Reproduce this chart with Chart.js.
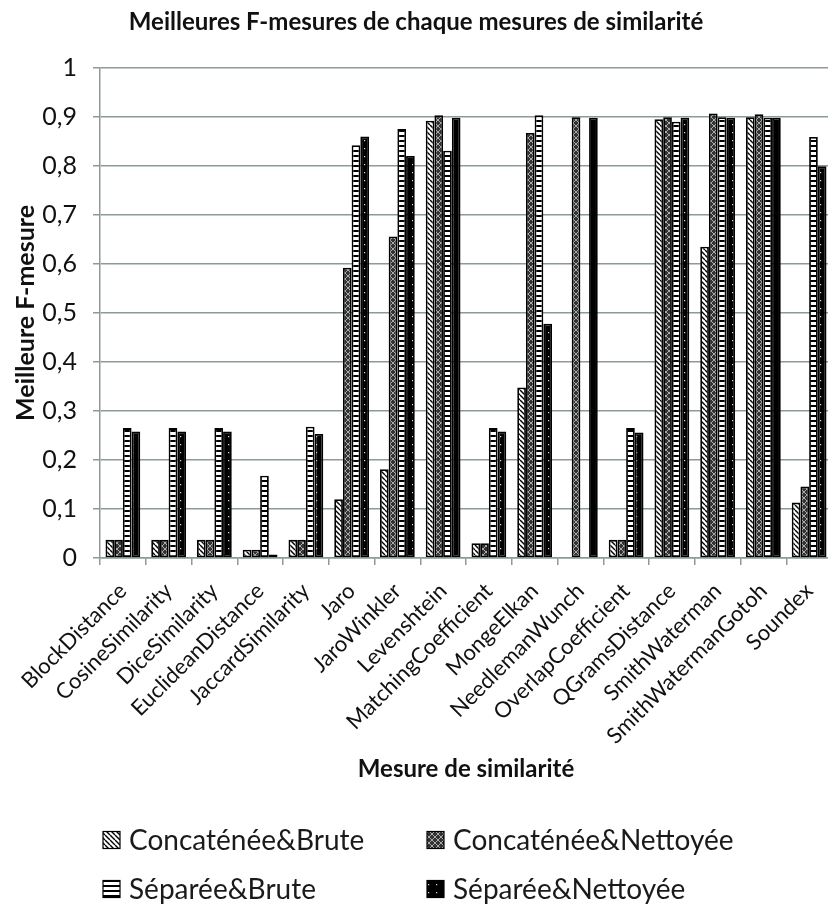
<!DOCTYPE html>
<html>
<head>
<meta charset="utf-8">
<script src="https://cdn.jsdelivr.net/npm/chart.js@4/dist/chart.umd.min.js"></script>
<style>
html,body{margin:0;padding:0;overflow:hidden;background:#fff;}
#wrap{width:832px;height:907px;position:relative;}
</style>
</head>
<body>
<div id="wrap"><canvas id="c"></canvas></div>
<script>
const categories = ["BlockDistance","CosineSimilarity","DiceSimilarity","EuclideanDistance","JaccardSimilarity","Jaro","JaroWinkler","Levenshtein","MatchingCoefficient","MongeElkan","NeedlemanWunch","OverlapCoefficient","QGramsDistance","SmithWaterman","SmithWatermanGotoh","Soundex"];
const seriesNames = ["Concaténée&Brute","Concaténée&Nettoyée","Séparée&Brute","Séparée&Nettoyée"];
const concBrute    = [0.037,0.037,0.037,0.017,0.037,0.120,0.181,0.892,0.030,0.348,0.000,0.037,0.895,0.635,0.899,0.113];
const concNettoyee = [0.037,0.037,0.037,0.017,0.037,0.592,0.656,0.903,0.030,0.867,0.899,0.037,0.899,0.907,0.905,0.146];
const sepBrute     = [0.265,0.265,0.265,0.168,0.268,0.842,0.875,0.831,0.265,0.903,0.000,0.265,0.890,0.899,0.898,0.859];
const sepNettoyee  = [0.258,0.258,0.258,0.007,0.253,0.860,0.820,0.898,0.258,0.478,0.898,0.256,0.898,0.898,0.898,0.799];
const yTicks = [0,0.1,0.2,0.3,0.4,0.5,0.6,0.7,0.8,0.9,1];

const FONT = "Lato, 'Open Sans', sans-serif";
const GRID = '#8c9a9a';

function mk(w,h,draw){const c=document.createElement('canvas');c.width=w;c.height=h;const g=c.getContext('2d');draw(g,w,h);return document.createElement('canvas').getContext('2d').createPattern(c,'repeat');}
const patDiag = mk(5,5,(g,w,h)=>{g.fillStyle='#fff';g.fillRect(0,0,w,h);g.strokeStyle='#000';g.lineWidth=1.4;for(const x0 of [-w,0,w]){g.beginPath();g.moveTo(x0,0);g.lineTo(x0+w,h);g.stroke();}});
const patCross = mk(6,6,(g,w,h)=>{g.fillStyle='#333';g.fillRect(0,0,w,h);g.strokeStyle='#aaa';g.lineWidth=1;for(const x0 of [-w,0,w]){g.beginPath();g.moveTo(x0,0);g.lineTo(x0+w,h);g.stroke();g.beginPath();g.moveTo(x0+w,0);g.lineTo(x0,h);g.stroke();}});
const patHoriz = mk(4,5,(g,w,h)=>{g.fillStyle='#fff';g.fillRect(0,0,w,h);g.fillStyle='#000';g.fillRect(0,0,w,2);});
const patDots = mk(8,8,(g,w,h)=>{g.fillStyle='#000';g.fillRect(0,0,w,h);g.fillStyle='#ddd';g.fillRect(4,4,1.2,1.2);});
const patterns = [patDiag, patCross, patHoriz, patDots];
const values = [concBrute, concNettoyee, sepBrute, sepNettoyee];

const gridLegend = {
  id:'gridLegend',
  afterDraw(chart, args, opts){
    const ctx = chart.ctx;
    chart.data.datasets.forEach((ds,i)=>{
      const x = opts.xs[i%2], y = opts.ys[Math.floor(i/2)];
      ctx.save();
      ctx.fillStyle = ds.backgroundColor;
      ctx.fillRect(x, y-opts.box/2, opts.box, opts.box);
      ctx.strokeStyle = '#000'; ctx.lineWidth = 1.2;
      ctx.strokeRect(x, y-opts.box/2, opts.box, opts.box);
      ctx.fillStyle = '#1a1a1a';
      ctx.font = opts.font;
      ctx.textBaseline = 'middle';
      ctx.textAlign = 'left';
      ctx.fillText(ds.label, x+opts.box+opts.gap, y+1);
      ctx.restore();
    });
  }
};

new Chart(document.getElementById('c'), {
  type:'bar',
  data:{
    labels: categories,
    datasets: seriesNames.map((n,i)=>({
      label:n, data:values[i], backgroundColor:patterns[i],
      borderColor:'#000', borderWidth:1.8, borderSkipped:false,
      categoryPercentage:0.76, barPercentage:1.0
    }))
  },
  options:{
    responsive:true, maintainAspectRatio:false, animation:false,
    layout:{padding:{left:0,right:0,top:0,bottom:100}},
    plugins:{
      legend:{display:false},
      tooltip:{enabled:false},
      title:{display:true, text:'Meilleures F-mesures de chaque mesures de similarité',
        color:'#111', font:{family:FONT, size:24, weight:'bold'}, padding:{top:8,bottom:31}},
      gridLegend:{xs:[103,427], ys:[840,889], box:17, gap:9, font:"28px "+FONT}
    },
    scales:{
      x:{
        grid:{display:true, drawOnChartArea:false, drawTicks:true, tickLength:7, color:GRID, lineWidth:1.5, offset:true},
        border:{display:true, color:GRID, width:1.5},
        ticks:{autoSkip:false, maxRotation:45, minRotation:45, padding:13, color:'#111', font:{family:FONT, size:22}},
        title:{display:true, text:'Mesure de similarité', color:'#111', font:{family:FONT, size:24, weight:'bold'}, padding:{top:0,bottom:23}},
        afterFit(s){ s.height = 249; s.paddingLeft = 0; s.paddingRight = 0; }
      },
      y:{
        min:0, max:1,
        afterBuildTicks(s){ s.ticks = yTicks.map(v=>({value:v})); },
        grid:{color:GRID, lineWidth:1.5, tickLength:7, drawTicks:true},
        border:{display:true, color:GRID, width:1.5},
        ticks:{padding:16, color:'#111', font:{family:FONT, size:25},
          callback:(v)=> (v===0||v===1) ? String(v) : v.toFixed(1).replace('.',',')},
        title:{display:true, text:'Meilleure F-mesure', color:'#111', font:{family:FONT, size:25, weight:'bold'}, padding:{top:11,bottom:0}},
        afterFit(s){ s.width = 100; }
      }
    }
  },
  plugins:[gridLegend]
});
</script>
</body>
</html>
